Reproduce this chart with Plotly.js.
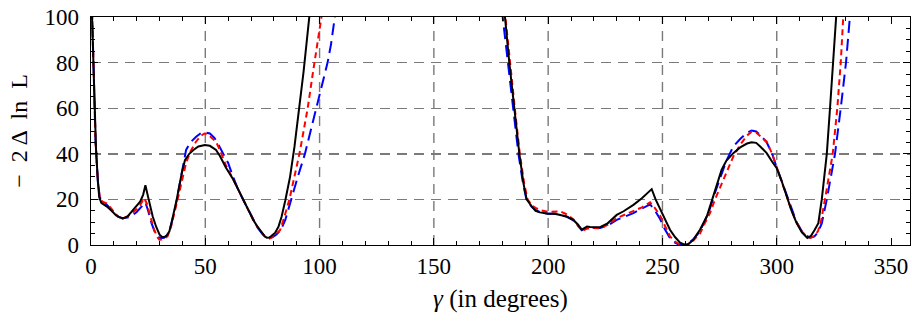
<!DOCTYPE html>
<html><head><meta charset="utf-8">
<script src="https://cdn.plot.ly/plotly-3.0.1.min.js"></script>
<style>html,body{margin:0;padding:0;background:#fff}#c{width:912px;height:322px}</style>
</head><body><div id="c"></div>
<script>
// Black solid curve
const blackX = [0,0.4,1,1.6,2.2,3,3.6,4.5,6,7.3,9,11,12.4,13.9,16,18,19.7,21.5,22.8,23.8,25,26,27,28.5,30,31,32,33,34.3,35.5,37.5,39.7,41.1,43,44.8,47,49.8,52,54.7,56.4,59,62.3,64.5,66.6,69,71,73,74.7,76,76.9,78,79,80.5,82,83.4,85,87.1,89,91,93,95.5,97,
  110,170,
  175,181.1,183,185.2,187.4,189.2,190.6,192.8,194.5,196.4,200,203,205.2,208,211,213,214.7,216,217,218.3,221,222.7,226,230,233,237.3,241,245.3,247,248.9,251,253.3,255.5,257.7,259.9,261.5,263.5,266.4,269.4,270.8,273,275.9,278,281,284,287,289,291,293,295.6,298,300,302,304.4,306.5,308.7,311,313.4,315,316.5,318.2,319.7,320.8,321.9,323.3,324.6,325.9,327];
const blackY = [115,100,78,58,42,28,21,18.5,17.5,16.6,15,13,12.2,11.6,12.5,14.8,16.6,19,22,26.2,21,16.5,12.5,8,4.5,3.6,3.5,4,6,11,20,31.5,37.2,40,41.7,43.2,43.9,43.5,41.7,39,34,28.6,24,19.8,15,11,7.8,5.3,3.8,3.2,3.3,4,5.3,8,12.5,19.5,30,43,58.5,76,100,113,
  160,160,
  140,100,80,60,40,27,20,16.9,15,14.3,13.7,13.7,13.3,12.5,11,9,6.7,7.5,8.1,7.9,7.7,7.8,9.5,13.2,14.8,17.6,20.5,24.5,20,16.2,11.5,6.7,3.5,1,0,0.5,2.3,6.7,12.5,16.9,24,33,37,40.3,42.8,44.5,45.1,44.8,43,40.3,36.5,33.7,28.5,21.3,15,9.6,5.5,3.1,4,6.5,9.6,20,30,40,60,80,100,115];

// Red short-dashed curve
const redX = [0,0.5,1,2,3,3.8,5,6.6,8,10,12,13.9,16,18,19.7,21.5,23.3,24.5,26,27.5,29,29.9,31,32.5,33.6,35,37.2,39,41.6,43.5,45.9,48,49.6,51,53,54.7,56.4,59,62.3,64.5,66.6,69,71,73,75,76.5,77.6,79,80.5,82.7,84.5,86.8,89,91.2,93,94.8,97,99,100.9,102,
  110,170,
  175,181.3,183.2,185.4,187.6,189.5,191,193,195,197,200,203,205.2,208,211,213,215,216.5,218.3,222.7,226,230,233.5,237.3,241,244.6,246.5,248.9,251,253.3,255.5,257.5,259,261,263.5,266.4,268.5,270.8,273,275.9,278,281,284,287,289,291,293,295.6,298,300,302,304.4,306.5,308.7,311,313,314.6,316.5,318,319.2,321.1,322.8,324.5,326.5,328,329.1,330];
const redY = [120,100,80,45,28,21,19,18.4,17,14.5,12.3,11.7,12.5,14,15.4,17.5,20.6,18,12,7,3.5,2.3,2.4,3,4,8,17,25,36,41,45.3,47.8,48.9,48.7,47,45.3,41.7,35,28.6,24,19.8,15,11,7.5,4.8,3.2,2.7,3.2,4.5,6.5,12,20,30,40,50,60,75,88,100,108,
  160,160,
  150,100,80,60,40,27,20,17.2,16,15.2,14.5,14.6,14.8,13.5,11.3,8.5,6.2,7,7.5,7.3,8.8,11.8,13.3,14.6,16.5,18.7,16.5,13,8.5,3.8,1.5,0.2,0,0.3,2,5,9.5,14,20,27,32,38.8,44,48,49.7,49.3,47.5,45.3,40,34.4,28.5,21.3,15,10,6,3.8,3.1,4,6,9.5,20,30,40,60,80,100,110];

// Blue long-dashed curve
const blueX = [0,0.5,1,2,3,3.8,5,6.6,8,10,12,13.9,16,17.5,20,22,23.8,25,26.5,28,29.5,30.5,32,33.5,35,37,39,41.6,43.5,46,48,50,52,54,56,58.6,60,62.3,64.5,66.6,69,71,73,75,76.5,78,79.5,81,83,85,87.5,90.5,93.6,96,98.7,101,103.5,105,106.3,107,
  115,170,
  174,180.1,182.3,184.5,187,189,190.5,192.8,195,197,200,203,205.2,208,211,213,214.7,216.5,218.3,222.7,226,230,233.5,237.3,241,244.6,246.5,248.9,251,253.3,255.5,257.5,259,261,263.5,266.4,268.5,270.8,273,275.9,278,281,284,287,289,291,293,295.6,298,300,302,304.4,306.5,308.7,311,313,314.8,316.5,318,319.7,321.9,323.8,325.5,328,330.3,332,333];
const blueY = [120,100,80,45,28,21,19,18,16.5,14,12.3,11.8,12,12.5,14.5,16.5,18.7,15,9.5,5.5,3.5,3,3.2,4.5,8.5,17,28,41.7,45,47.5,49,49.4,48.9,47,43.5,38.8,36,29.5,24,19.8,15,11,7.5,4.8,3.3,3,3.5,4.5,6.5,11,20,30,40,50,60,70,80,88,97,103,
  160,160,
  150,100,80,60,40,27,20,16.8,15,14.3,13.7,13.7,13.3,12.5,10.8,8.5,6.5,7.5,7.6,7.5,8.5,11,12.5,14,16,17.8,15.5,11.5,7,3,1,0,0,0.5,2.5,6,10.5,16,23,31,37,43.2,46.5,49.2,50.2,49.8,48,45,40,34,28.5,21.5,15.5,10,6,4,3.2,3.8,5.5,9.5,20,30,40,60,80,100,110];

const xTicks = [0,50,100,150,200,250,300,350];
const xGrid = [50,100,150,200,250,300];
const yTicks = [0,20,40,60,80,100];

const traces = [
  {x: blueX, y: blueY, mode:'lines', line:{color:'#0000ff', width:2, dash:'12px,6px'}, hoverinfo:'skip'},
  {x: redX, y: redY, mode:'lines', line:{color:'#ff0000', width:2, dash:'6px,4px'}, hoverinfo:'skip'},
  {x: blackX, y: blackY, mode:'lines', line:{color:'#000000', width:2}, hoverinfo:'skip'}
];

const fontFam = 'Liberation Serif';
const gridCol = '#7a7a7a';
const shapes = xGrid.map(v => ({type:'line', xref:'x', yref:'paper', x0:v, x1:v, y0:0, y1:1,
  line:{color:gridCol, width:1.4, dash:'10px,7px'}, layer:'below'}));

const layout = {
  width:912, height:322,
  margin:{l:91, r:2, t:17, b:77},
  paper_bgcolor:'#fff', plot_bgcolor:'#fff',
  showlegend:false,
  font:{family:fontFam, color:'#000000', size:22},
  shapes: shapes,
  xaxis:{range:[0,358.3], tickvals:xTicks, ticktext:xTicks.map(String), ticks:'inside', ticklen:7, tickwidth:1, tickcolor:'#000',
    minor:{ticks:'inside', dtick:10, tick0:0, ticklen:4, tickwidth:1, tickcolor:'#000', showgrid:false},
    showline:true, linecolor:'#000', linewidth:1.3, mirror:'allticks', showgrid:false, zeroline:false,
    tickfont:{family:fontFam, size:23, color:'#000000'},
    title:{text:'<i>γ</i> (in degrees)', font:{family:fontFam, size:25, color:'#000000'}, standoff:11}},
  yaxis:{range:[0,100], tickvals:yTicks, ticktext:yTicks.map(String), ticks:'inside', ticklen:7, tickwidth:1, tickcolor:'#000',
    minor:{ticks:'inside', dtick:5, tick0:0, ticklen:4, tickwidth:1, tickcolor:'#000', showgrid:false},
    showline:true, linecolor:'#000', linewidth:1.3, mirror:'allticks', showgrid:true, gridcolor:gridCol, gridwidth:1.4, griddash:'10px,7px',
    zeroline:false, ticklabelstandoff:6, tickfont:{family:fontFam, size:23, color:'#000000'},
    title:{text:'−  2 Δ  ln  L', font:{family:fontFam, size:24, color:'#000000'}, standoff:10}}
};
Plotly.newPlot('c', traces, layout, {staticPlot:true, displayModeBar:false});
</script></body></html>
